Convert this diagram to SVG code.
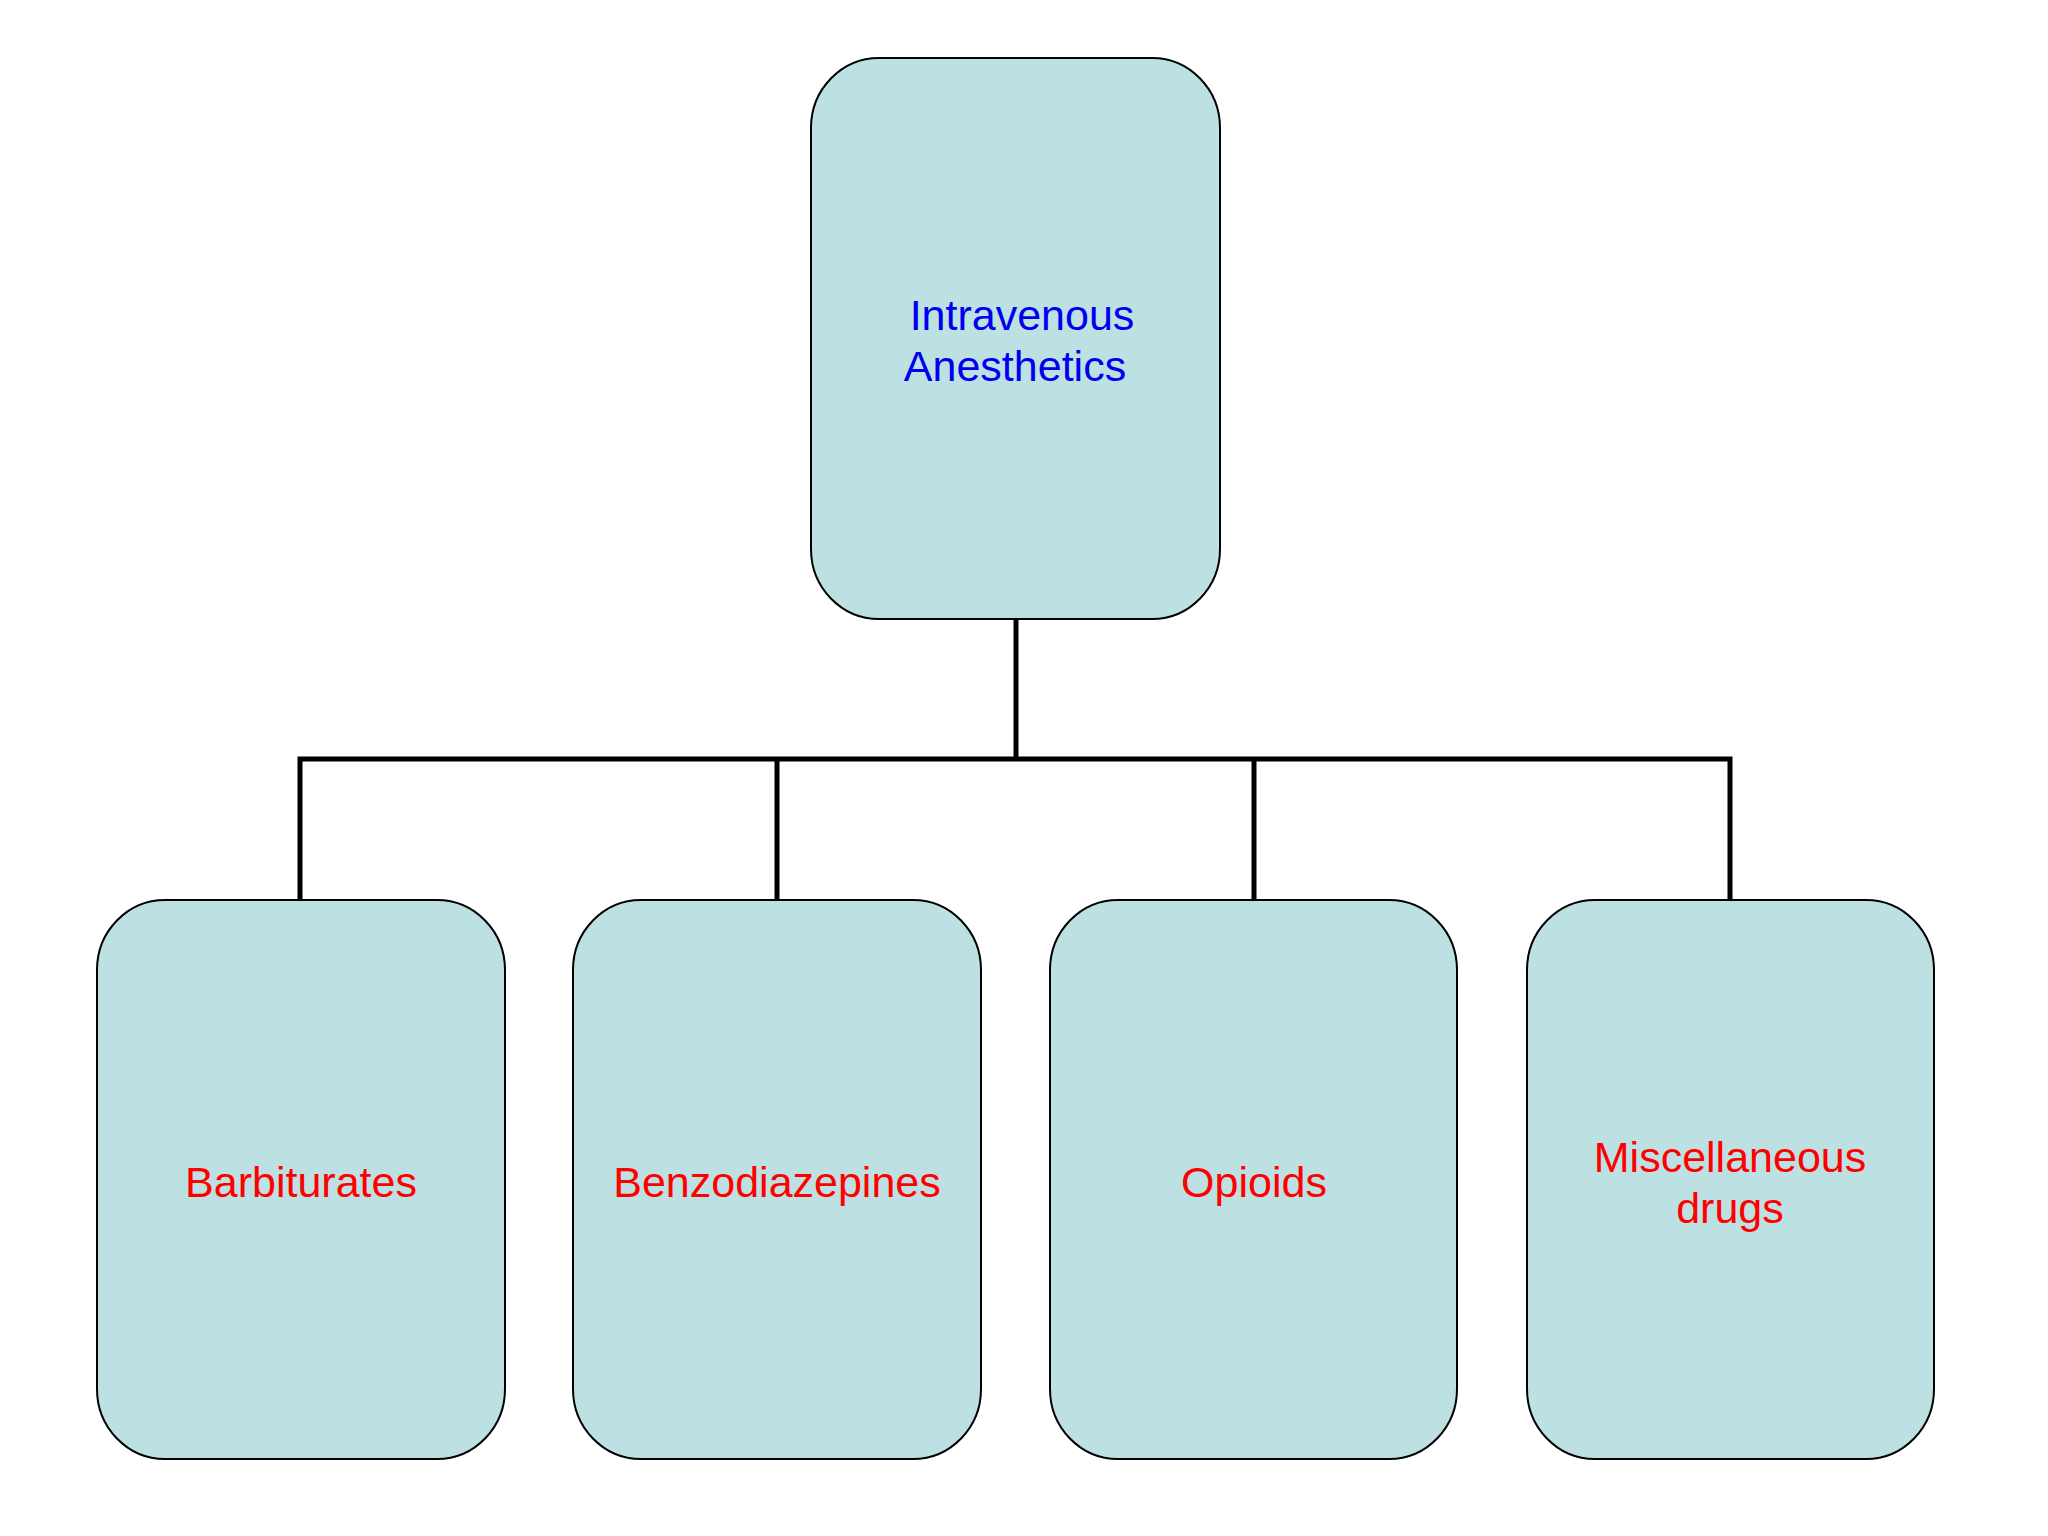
<svg xmlns="http://www.w3.org/2000/svg" width="2048" height="1536" viewBox="0 0 2048 1536">
<style>
.box{fill:#BDE0E3;stroke:#000;stroke-width:2}
.t{font-family:"Liberation Sans",Arial,sans-serif;font-size:43px;text-anchor:middle}
.top{fill:#0000EE}
.sub{fill:#FF0000}
.conn{fill:none;stroke:#000;stroke-width:5;stroke-linejoin:miter}
</style>
<rect width="2048" height="1536" fill="#fff"/>
<g id="connectors">
<path class="conn" d="M1016 619 V759"/>
<path class="conn" d="M300 900 V759 H1730 V900"/>
<path class="conn" d="M777 759 V900"/>
<path class="conn" d="M1254 759 V900"/>
</g>
<g id="node-root">
<rect class="box" x="811" y="58" width="409" height="561" rx="68" ry="70"/>
<text class="t top" x="1022" y="330">Intravenous</text>
<text class="t top" x="1015" y="381">Anesthetics</text>
</g>
<g id="node-barbiturates">
<rect class="box" x="97" y="900" width="408" height="559" rx="68" ry="70"/>
<text class="t sub" x="301" y="1197">Barbiturates</text>
</g>
<g id="node-benzodiazepines">
<rect class="box" x="573" y="900" width="408" height="559" rx="68" ry="70"/>
<text class="t sub" x="777" y="1197">Benzodiazepines</text>
</g>
<g id="node-opioids">
<rect class="box" x="1050" y="900" width="407" height="559" rx="68" ry="70"/>
<text class="t sub" x="1254" y="1197">Opioids</text>
</g>
<g id="node-misc">
<rect class="box" x="1527" y="900" width="407" height="559" rx="68" ry="70"/>
<text class="t sub" x="1730" y="1172">Miscellaneous</text>
<text class="t sub" x="1730" y="1223">drugs</text>
</g>
</svg>
